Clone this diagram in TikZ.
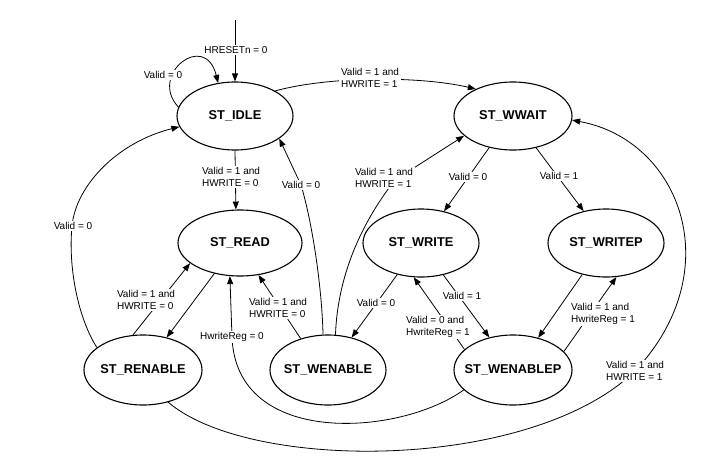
\documentclass[tikz,border=0pt]{standalone}
\usepackage{fontspec}
\setmainfont{Liberation Sans}
\usetikzlibrary{shapes.geometric,arrows.meta}
\begin{document}
\begin{tikzpicture}[x=1pt,y=-1pt,
  state/.style={ellipse,draw,line width=1.1pt,inner sep=0pt,font=\fontsize{12.8}{14}\selectfont\bfseries},
  lbl/.style={fill=white,inner xsep=2pt,inner ysep=1.8pt,align=left,font=\fontsize{10}{12}\selectfont},
  conn/.style={line width=0.8pt},
  arr/.style={conn,-{Triangle[length=8pt,width=6pt]}}]
\useasboundingbox (0,0) rectangle (722,464);
% states
\node[state,minimum width=116pt,minimum height=68pt] (idle)     at (235,116) {\makebox[0pt]{ST\_IDLE}};
\node[state,minimum width=118pt,minimum height=68pt] (wwait)    at (513,116) {\makebox[0pt]{ST\_WWAIT}};
\node[state,minimum width=124pt,minimum height=66pt] (read)     at (240,243) {\makebox[0pt]{ST\_READ}};
\node[state,minimum width=116pt,minimum height=68pt] (write)    at (421,243) {\makebox[0pt]{ST\_WRITE}};
\node[state,minimum width=116pt,minimum height=68pt] (writep)   at (606,243) {\makebox[0pt]{ST\_WRITEP}};
\node[state,minimum width=118pt,minimum height=70pt] (renable)  at (143,370) {\makebox[0pt]{ST\_RENABLE}};
\node[state,minimum width=116pt,minimum height=70pt] (wenable)  at (328,370) {\makebox[0pt]{ST\_WENABLE}};
\node[state,minimum width=118pt,minimum height=70pt] (wenablep) at (513,370) {\makebox[0pt]{ST\_WENABLEP}};
\coordinate (rs) at (235,20);
% connectors
\draw[arr] (rs) -- (idle.north);
\draw[arr] (idle.171) .. controls (148,75) and (205,30) .. (idle.117);
\draw[arr] (idle.32) .. controls (330,76) and (420,76) .. (wwait.144);
\draw[arr] (idle.south) -- (read.97);
\draw[arr] (renable.154) .. controls (78,318) and (68,267) .. (72,226) .. controls (76,185) and (118,142) .. (idle.191);
\draw[arr] (wenable.98) .. controls (322,290) and (313,225) .. (301,185) -- (idle.333);
\draw[arr] (wenable.78) .. controls (337,290) and (352,235) .. (395,180) -- (wwait.202);
\draw[arr] (renable.106) -- (read.202);
\draw[arr] (read.230) -- (renable.54);
\draw[arr] (wenable.131) -- (read.300);
\draw[arr] (wenablep.202) .. controls (400,436) and (236,448) .. (232,337) -- (read.253);
\draw[arr] (renable.308) .. controls (250,472) and (530,472) .. (635,371) .. controls (730,270) and (680,140) .. (wwait.356);
\draw[arr] (wwait.233) -- (write.54);
\draw[arr] (wwait.306) -- (writep.125);
\draw[arr] (write.233) -- (wenable.54);
\draw[arr] (write.305) -- (wenablep.126);
\draw[arr] (wenablep.157) -- (write.258);
\draw[arr] (writep.233) -- (wenablep.52);
\draw[arr] (wenablep.20) -- (writep.287);
% labels
\node[lbl] (hr)  at (236,50)  {HRESETn = 0};
\node[lbl] (lv)  at (163,75)  {Valid = 0};
\node[lbl] (l3)  at (370,78)  {Valid = 1 and\\HWRITE = 1};
\node[lbl] (l4)  at (231,177) {Valid = 1 and\\HWRITE = 0};
\node[lbl] (l5)  at (73,226)  {Valid = 0};
\node[lbl] (l6)  at (301,185) {Valid = 0};
\node[lbl] (l7)  at (384,178) {Valid = 1 and\\HWRITE = 1};
\node[lbl] (l8)  at (146,300) {Valid = 1 and\\HWRITE = 0};
\node[lbl] (l10) at (278,308) {Valid = 1 and\\HWRITE = 0};
\node[lbl] (l11) at (232,337) {HwriteReg = 0};
\node[lbl] (l12) at (635,371) {Valid = 1 and\\HWRITE = 1};
\node[lbl] (l13) at (468,177) {Valid = 0};
\node[lbl] (l14) at (559,176) {Valid = 1};
\node[lbl] (l15) at (376,303) {Valid = 0};
\node[lbl] (l16) at (462,296) {Valid = 1};
\node[lbl] (l17) at (438,327) {Valid = 0 and\\HwriteReg = 1};
\node[lbl] (l19) at (603,314) {Valid = 1 and\\HwriteReg = 1};
\end{tikzpicture}
\end{document}
